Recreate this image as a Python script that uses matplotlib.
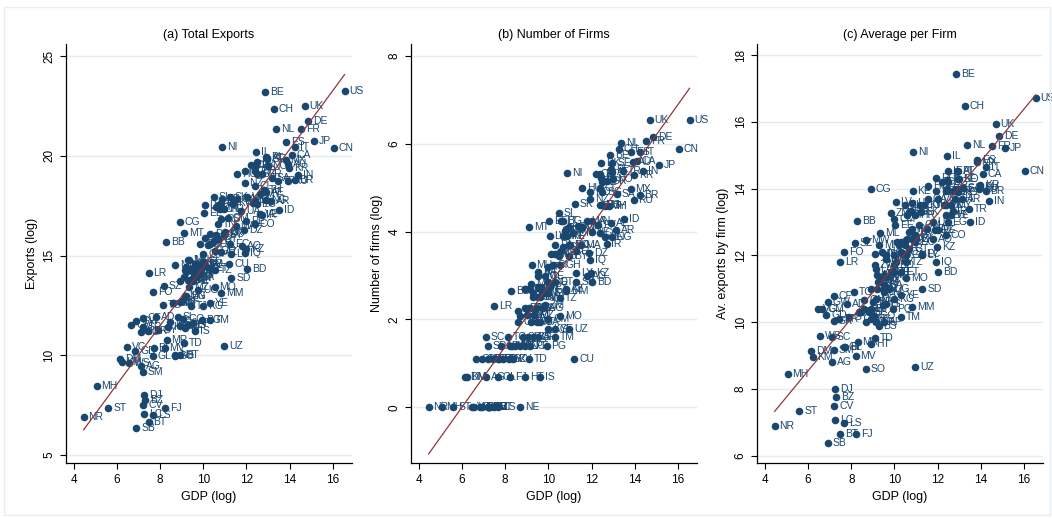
import numpy as np
import matplotlib
matplotlib.use("Agg")
import matplotlib.pyplot as plt
from matplotlib.patches import Rectangle

plt.rcParams['font.family'] = ['Liberation Sans Narrow', 'Liberation Sans', 'DejaVu Sans']

# country codes and values
codes = ['US', 'BE', 'CH', 'UK', 'DE', 'NL', 'FR', 'ES', 'JP', 'IT',
         'CN', 'NI', 'CA', 'IL', 'PL', 'SE', 'DK', 'MX', 'KR', 'IN',
         'BR', 'RU', 'SA', 'AR', 'ID', 'TR', 'AU', 'AT', 'NO', 'FI',
         'PT', 'GR', 'IE', 'CZ', 'HU', 'RO', 'NZ', 'CL', 'SG', 'TH',
         'MY', 'EG', 'PH', 'SK', 'VN', 'PK', 'NG', 'CO', 'PE', 'VE',
         'UA', 'KE', 'BG', 'HR', 'LT', 'EE', 'LV', 'LU', 'SI', 'CU',
         'CR', 'RS', 'QA', 'KW', 'AE', 'OM', 'ZM', 'CM', 'TN', 'MA',
         'LK', 'GT', 'EC', 'DO', 'UY', 'BY', 'JO', 'LB', 'PA', 'GH',
         'CI', 'TZ', 'IQ', 'DZ', 'KZ', 'BD', 'IR', 'LY', 'AO', 'SD',
         'MM', 'MO', 'YE', 'UZ', 'TM', 'ET', 'BO', 'PY', 'HN', 'SV',
         'NP', 'KH', 'LA', 'MN', 'GE', 'AM', 'AZ', 'AL', 'MK', 'MD',
         'BA', 'MU', 'JM', 'TT', 'BW', 'NA', 'ZW', 'MZ', 'UG', 'SN',
         'GA', 'PG', 'MG', 'BF', 'BJ', 'ML', 'MW', 'RW', 'NE', 'SO',
         'GN', 'SL', 'TG', 'HT', 'KG', 'TJ', 'BN', 'MR', 'BI', 'MV',
         'LR', 'FO', 'SZ', 'CF', 'AD', 'GM', 'SC', 'GY', 'BS', 'TD',
         'VC', 'GD', 'GL', 'DM', 'KM', 'WS', 'AG', 'SM', 'MH', 'DJ',
         'BZ', 'CV', 'FJ', 'ST', 'LC', 'LS', 'BT', 'NR', 'SB', 'CG',
         'BB', 'MT', 'IS', 'CY', 'GW', 'ER', 'KY', 'GQ', 'AF', 'SR',
         'ME', 'NC', 'PF']

gdp = [16.55, 12.87, 13.26, 14.70, 14.87, 13.38, 14.55, 13.84, 15.14, 14.27,
       16.05, 10.88, 14.10, 12.46, 12.90, 12.97, 12.46, 13.82, 13.97, 14.40,
       14.23, 13.95, 13.19, 13.15, 13.50, 13.48, 13.93, 12.95, 12.98, 12.45,
       12.40, 12.70, 12.48, 12.20, 11.57, 11.95, 11.92, 12.39, 12.50, 12.80,
       12.62, 12.47, 12.39, 11.23, 12.03, 12.30, 12.93, 12.39, 12.00, 12.62,
       11.77, 10.85, 10.66, 10.95, 10.60, 10.04, 10.06, 10.82, 10.50, 11.20,
       10.77, 10.81, 11.54, 11.38, 12.90, 11.15, 9.85, 10.00, 10.70, 11.50,
       11.00, 10.70, 11.26, 10.95, 10.60, 10.95, 10.30, 10.50, 10.30, 10.55,
       10.20, 10.53, 11.93, 11.88, 11.97, 12.03, 12.70, 11.30, 11.80, 11.30,
       10.83, 10.53, 10.30, 10.97, 10.32, 10.30, 10.00, 10.06, 9.60, 10.00,
       9.83, 9.60, 9.13, 9.29, 9.83, 9.29, 10.80, 9.50, 9.20, 8.90,
       9.53, 9.22, 9.50, 10.00, 9.60, 9.44, 9.10, 9.35, 9.75, 9.50,
       9.60, 9.92, 9.13, 9.00, 8.90, 9.35, 8.70, 8.60, 8.68, 8.67,
       8.60, 8.83, 8.14, 8.91, 9.99, 9.45, 9.19, 8.30, 7.70, 8.20,
       7.47, 7.66, 8.16, 7.18, 7.79, 6.66, 7.09, 7.90, 9.27, 9.12,
       6.47, 6.84, 7.66, 6.13, 6.21, 6.55, 7.12, 7.20, 5.05, 7.26,
       7.30, 7.22, 8.22, 5.60, 7.26, 7.66, 7.47, 4.45, 6.90, 8.90,
       8.27, 9.10, 9.60, 10.10, 6.90, 7.44, 8.37, 9.07, 9.53, 7.21,
       8.45, 8.91, 9.14]

exports = [23.26, 23.18, 22.35, 22.48, 21.75, 21.33, 21.33, 20.68, 20.75, 20.46,
           20.39, 20.44, 20.04, 20.20, 19.94, 19.86, 19.54, 19.77, 19.40, 19.03,
           18.77, 18.75, 18.87, 17.73, 17.27, 18.76, 19.57, 19.88, 19.48, 19.52,
           19.22, 19.07, 19.67, 19.52, 19.08, 19.22, 18.66, 18.49, 19.11, 18.28,
           18.08, 17.60, 17.80, 17.93, 17.93, 17.65, 17.78, 16.58, 16.75, 17.08,
           17.23, 17.83, 17.53, 17.31, 17.43, 17.13, 17.52, 17.62, 17.92, 14.60,
           17.35, 16.84, 17.81, 17.63, 18.20, 16.86, 15.60, 15.10, 16.60, 16.50,
           16.20, 15.85, 15.60, 16.10, 16.05, 16.05, 15.60, 15.75, 16.10, 15.24,
           15.54, 14.29, 15.14, 16.29, 15.31, 14.35, 17.03, 15.06, 15.50, 13.86,
           13.10, 13.41, 12.60, 10.45, 11.77, 14.36, 14.56, 14.55, 14.60, 14.60,
           14.10, 14.10, 14.30, 14.80, 14.50, 13.80, 15.20, 13.75, 14.20, 13.70,
           14.19, 14.44, 13.90, 14.70, 14.40, 14.35, 13.95, 13.40, 13.25, 13.90,
           13.95, 11.79, 12.95, 12.70, 12.65, 14.76, 14.54, 12.60, 10.00, 9.99,
           12.60, 11.91, 12.50, 10.04, 12.49, 12.45, 12.95, 10.79, 10.35, 10.38,
           14.11, 13.19, 13.47, 11.87, 11.93, 11.50, 11.18, 11.26, 11.50, 10.62,
           10.40, 10.23, 9.96, 9.84, 9.66, 9.60, 9.49, 9.18, 8.46, 8.00,
           7.77, 7.50, 7.34, 7.35, 7.07, 6.99, 6.65, 6.90, 6.38, 16.69,
           15.69, 16.14, 11.23, 15.90, 11.70, 11.20, 11.40, 11.81, 11.61, 11.44,
           11.69, 11.49, 11.39]

firms = [6.54, 5.75, 5.88, 6.54, 6.16, 6.01, 6.06, 5.81, 5.52, 5.82,
         5.87, 5.33, 5.61, 5.21, 5.42, 5.57, 5.56, 4.97, 5.29, 5.39,
         4.84, 4.71, 4.86, 4.03, 4.28, 5.38, 5.59, 5.35, 5.20, 5.25,
         5.30, 5.15, 5.14, 5.32, 5.00, 4.91, 4.74, 4.99, 4.91, 4.58,
         4.58, 4.60, 4.60, 4.63, 4.23, 4.15, 3.88, 3.96, 4.00, 3.88,
         4.23, 3.90, 4.23, 4.11, 4.23, 4.23, 3.91, 4.06, 4.42, 1.10,
         4.02, 4.04, 4.11, 4.13, 4.20, 3.96, 2.34, 2.00, 3.90, 3.70,
         3.70, 3.65, 3.55, 3.70, 3.55, 3.45, 3.50, 3.45, 3.70, 3.24,
         3.24, 2.49, 3.35, 3.52, 3.05, 2.86, 3.71, 3.06, 3.00, 2.86,
         2.64, 2.08, 1.79, 1.79, 1.61, 2.86, 2.86, 2.75, 2.70, 2.60,
         2.60, 2.75, 2.70, 2.50, 3.00, 2.60, 2.70, 2.75, 2.80, 2.70,
         3.09, 3.24, 3.00, 3.20, 2.50, 2.25, 2.25, 2.10, 2.25, 2.50,
         1.95, 1.39, 2.25, 2.10, 2.25, 2.10, 2.08, 2.20, 0.00, 1.39,
         1.95, 1.61, 1.61, 0.69, 1.79, 1.95, 1.95, 1.39, 1.10, 1.39,
         2.31, 1.10, 1.10, 1.10, 1.39, 1.10, 1.61, 1.10, 1.61, 1.10,
         0.00, 0.00, 0.69, 0.69, 0.69, 0.00, 0.69, 0.00, 0.00, 0.00,
         0.00, 0.00, 0.69, 0.00, 0.00, 0.00, 0.00, 0.00, 0.00, 2.70,
         2.65, 4.10, 0.69, 3.50, 1.10, 1.10, 1.10, 1.61, 1.61, 1.39,
         1.39, 1.39, 1.39]

avg_firm = [16.72, 17.43, 16.47, 15.94, 15.59, 15.32, 15.27, 14.87, 15.23, 14.64,
            14.52, 15.11, 14.43, 14.99, 14.52, 14.29, 13.98, 14.80, 14.11, 13.64,
            13.93, 14.04, 14.01, 13.70, 12.99, 13.38, 13.98, 14.53, 14.28, 14.27,
            13.92, 13.92, 14.53, 14.20, 14.08, 14.31, 13.92, 13.50, 14.20, 13.70,
            13.50, 13.00, 13.20, 13.30, 13.70, 13.50, 13.90, 12.62, 12.75, 13.20,
            13.00, 13.93, 13.30, 13.20, 13.20, 12.90, 13.61, 13.56, 13.50, 13.50,
            13.33, 12.80, 13.70, 13.50, 14.00, 12.90, 13.26, 13.10, 12.70, 12.80,
            12.50, 12.20, 12.05, 12.40, 12.50, 12.60, 12.10, 12.30, 12.40, 12.00,
            12.30, 11.80, 11.79, 12.77, 12.26, 11.49, 13.32, 12.00, 12.50, 11.00,
            10.46, 11.33, 10.81, 8.66, 10.16, 11.50, 11.70, 11.80, 11.90, 12.00,
            11.50, 11.35, 11.60, 12.30, 11.50, 11.20, 12.50, 11.00, 11.40, 11.00,
            11.10, 11.20, 10.90, 11.50, 11.90, 12.10, 11.70, 11.30, 11.00, 11.40,
            12.00, 10.40, 10.70, 10.60, 10.40, 12.66, 12.46, 10.40, 10.00, 8.60,
            10.65, 10.30, 10.89, 9.35, 10.70, 10.50, 11.00, 9.40, 9.25, 8.99,
            11.80, 12.09, 12.37, 10.77, 10.54, 10.40, 9.57, 10.16, 9.89, 9.52,
            10.40, 10.23, 9.27, 9.15, 8.97, 9.60, 8.80, 9.18, 8.46, 8.00,
            7.77, 7.50, 6.65, 7.35, 7.07, 6.99, 6.65, 6.90, 6.38, 13.99,
            13.04, 12.04, 10.54, 12.40, 10.60, 10.10, 10.30, 10.20, 10.00, 10.05,
            10.30, 10.10, 10.00]

navy = '#1a476f'
maroon = '#90353b'
grid_col = '#e4ecee'

panels = [
    ('(a) Total Exports', exports, 'Exports (log)', [5, 10, 15, 20, 25], (4.6, 25.6)),
    ('(b) Number of Firms', firms, 'Number of firms (log)', [0, 2, 4, 6, 8], (-1.27, 8.27)),
    ('(c) Average per Firm', avg_firm, 'Av. exports by firm (log)', [6, 8, 10, 12, 14, 16, 18], (5.78, 18.33)),
]
lefts = [0.0627, 0.3907, 0.7196]

fig = plt.figure(figsize=(10.52, 5.18), dpi=100)
fig.patches.append(Rectangle((0.004, 0.006), 0.994, 0.981, transform=fig.transFigure,
                             fill=False, edgecolor='#e8eef0', linewidth=1))

x = np.array(gdp)
for (title, yvals, ylabel, yticks, ylim), left in zip(panels, lefts):
    ax = fig.add_axes([left, 0.106, 0.272, 0.809])
    y = np.array(yvals)
    for t in yticks:
        ax.axhline(t, color=grid_col, lw=1, zorder=0)
    ax.scatter(x, y, s=30, color=navy, zorder=3, linewidths=0)
    for c, xi, yi in zip(codes, x, y):
        ax.annotate(c, (xi, yi), xytext=(3.5, 0), textcoords='offset points',
                    va='center', ha='left', fontsize=7.5, color=navy, zorder=4,
                    family=['Liberation Sans', 'DejaVu Sans'])
    b, a = np.polyfit(x, y, 1)
    xs = np.array([x.min(), x.max()])
    ax.plot(xs, a + b * xs, color=maroon, lw=0.9, zorder=5)

    ax.set_xlim(3.63, 16.9)
    ax.set_ylim(*ylim)
    ax.set_xticks([4, 6, 8, 10, 12, 14, 16])
    ax.set_yticks(yticks)
    ax.set_yticklabels([str(t) for t in yticks], rotation=90, va='center')
    ax.tick_params(labelsize=8.5, length=4, width=0.8, color='black')
    ax.set_xlabel('GDP (log)', fontsize=9)
    ax.set_ylabel(ylabel, fontsize=9)
    ax.set_title(title, fontsize=9, pad=4)
    for s in ['top', 'right']:
        ax.spines[s].set_visible(False)
    for s in ['left', 'bottom']:
        ax.spines[s].set_linewidth(0.9)

fig.savefig('out.png', dpi=100, facecolor='white')
